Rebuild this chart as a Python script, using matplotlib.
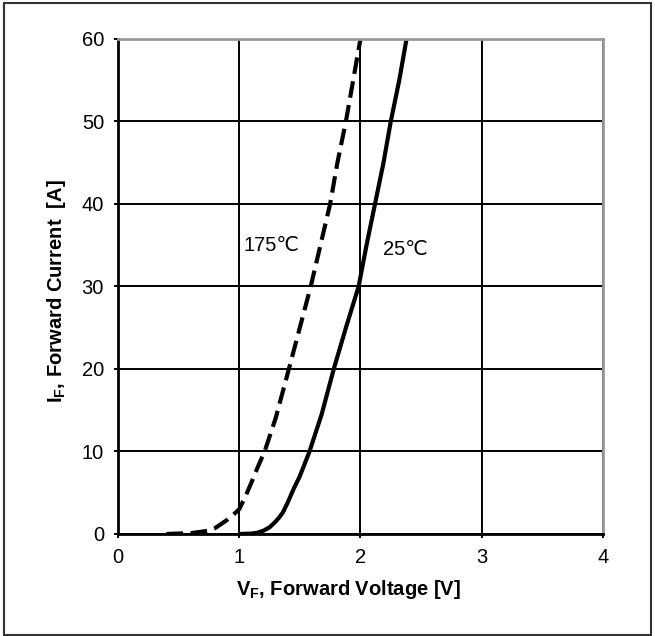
import matplotlib.pyplot as plt
import matplotlib.patches as patches

plt.rcParams['font.family'] = ['Liberation Sans', 'DejaVu Sans']

# forward characteristic
vf_175 = [0.4, 0.6, 0.75, 0.8, 0.85, 0.9, 0.95, 1.0, 1.05, 1.1, 1.15, 1.21, 1.3, 1.41, 1.5,
          1.59, 1.67, 1.75, 1.81, 1.88, 1.94, 2.0]
if_175 = [0.0, 0.1, 0.4, 0.7, 1.2, 1.7, 2.3, 3.0, 4.5, 6.2, 8.0, 10, 14, 20, 25,
          30, 35, 40, 45, 50, 55, 60]

vf_25 = [1.0, 1.1, 1.15, 1.2, 1.25, 1.3, 1.33, 1.36, 1.4, 1.45, 1.5, 1.58, 1.68, 1.78, 1.88,
         1.985, 2.05, 2.12, 2.19, 2.25, 2.32, 2.38]
if_25 = [0.0, 0.05, 0.15, 0.4, 0.8, 1.5, 2.0, 2.6, 3.8, 5.5, 7.0, 10, 14.5, 20, 25,
         30, 35, 40, 45, 50, 55, 60]

xticks = [0, 1, 2, 3, 4]
yticks = [0, 10, 20, 30, 40, 50, 60]

fig = plt.figure(figsize=(6.55, 6.36), dpi=100)
ax = fig.add_axes([0.180, 0.1604, 0.7406, 0.7783])

ax.plot(vf_25, if_25, color='black', lw=3.0, solid_capstyle='butt', solid_joinstyle='round')
ax.plot(vf_175, if_175, color='black', lw=3.0, linestyle=(0, (4, 1.8)), dash_capstyle='butt')

ax.set_xlim(0, 4)
ax.set_ylim(0, 60)
ax.set_xticks(xticks)
ax.set_yticks(yticks)
ax.grid(True, color='black', lw=1.4)
ax.set_axisbelow(True)
ax.tick_params(direction='out', length=3, width=1.4, labelsize=14.5, colors='black', pad=7)

for side in ['left', 'bottom']:
    ax.spines[side].set_color('black')
    ax.spines[side].set_linewidth(2)
for side in ['top', 'right']:
    ax.spines[side].set_color('#999999')
    ax.spines[side].set_linewidth(2)

ax.set_xlabel('V$_\\mathregular{F}$, Forward Voltage [V]', fontsize=14.5, fontweight='bold', labelpad=8)
ax.set_ylabel('I$_\\mathregular{F}$, Forward Current  [A]', fontsize=14.5, fontweight='bold', labelpad=10)
ax.xaxis.label.set_x(0.475)
ax.yaxis.label.set_y(0.49)

ax.text(1.27, 35.0, '175\u2103', fontsize=14.5, ha='center', va='center')
ax.text(2.19, 34.5, '25\u2103', fontsize=14.5, ha='left', va='center')

# outer frame of the datasheet figure
fig.patches.append(patches.Rectangle((0.006, 0.002), 0.988, 0.994, transform=fig.transFigure,
                                     fill=False, edgecolor='#333333', lw=1.5))

fig.savefig('out.png', dpi=100)
